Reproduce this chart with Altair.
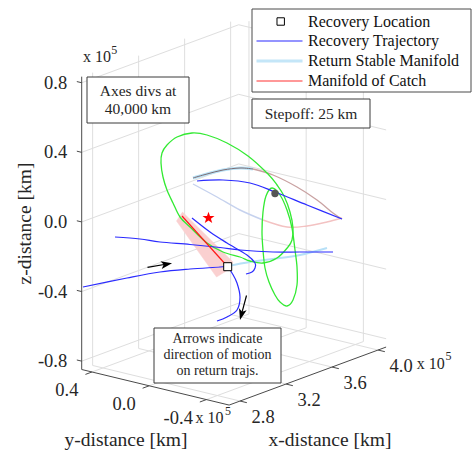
import math
import altair as alt
import pandas as pd

W, H = 475, 453
FONT = "Liberation Serif"

# ---------------- axis limits and ticks (units of 1e5 km) ----------------
x_lim = [2.705, 4.07]
y_lim = [-0.559, 0.472]
z_lim = [-0.848, 0.835]
x_ticks = [2.8, 3.2, 3.6, 4.0]
x_tick_labels = ["2.8", "3.2", "3.6", "4.0"]
y_ticks = [0.4, 0.0, -0.4]
y_tick_labels = ["0.4", "0.0", "-0.4"]
z_ticks = [0.8, 0.4, 0.0, -0.4, -0.8]
z_tick_labels = ["0.8", "0.4", "0.0", "-0.4", "-0.8"]

# ---------------- curves (projected view coords) ----------------
green_big_x = [192, 207, 227, 248, 268, 277, 284, 290, 293, 292, 288, 277, 263, 250, 240, 223, 207, 190, 180, 173, 167, 163, 161, 162, 167, 177]
green_big_y = [133, 135, 143, 156, 174, 185, 196, 212, 228, 240, 247, 258, 263, 261, 257, 252, 243, 227, 217, 203, 190, 177, 163, 153, 145, 137]
green_small_x = [272, 280, 287, 292, 295, 297, 297, 293, 287, 280, 275, 269, 265, 263, 262, 263, 266]
green_small_y = [188, 195, 210, 228, 250, 267, 285, 300, 306, 302, 295, 282, 268, 250, 232, 212, 196]

blue1_x = [83, 127, 160, 190, 220, 227]
blue1_y = [287, 278, 272, 269, 267, 266]
blue2_x = [228, 232, 237, 240, 237, 227, 217]
blue2_y = [267, 273, 283, 297, 310, 317, 321]
blue3_x = [115, 140, 160, 190, 220, 240, 273, 300, 333]
blue3_y = [237, 239, 242, 244.5, 247.5, 250, 252, 252, 252]
blue4_x = [192, 210, 227, 247, 255, 255, 252, 246]
blue4_y = [218, 232, 243, 255, 263, 268, 272, 274]
blue5_x = [197, 223, 250, 275, 307, 342]
blue5_y = [181, 180, 183, 192, 205, 219]

stable1_x = [228, 250, 273, 300, 327]
stable1_y = [266, 262, 259, 255, 248]
arc_top_x = [193, 207, 223, 240, 253, 273, 297, 317, 333, 342]
arc_top_y = [178, 174, 170, 168, 169, 175, 187, 200, 213, 219]
arc_bot_x = [193, 217, 240, 263, 287, 307, 327, 342]
arc_bot_y = [184, 197, 210, 220, 227, 226, 222, 218]

catch_x = [182, 227]
catch_y = [216, 266]
catch_band_x = [176.5, 182.5, 233, 228, 216.5]
catch_band_y = [221, 212, 262, 270, 277]

recovery_pt = (227.7, 266.7)
moon_pt = (275, 193.5)
star_pt = (208.5, 218)

legend_labels = ["Recovery Location", "Recovery Trajectory", "Return Stable Manifold", "Manifold of Catch"]

# ---------------- view projection (px per 1e5 km) ----------------
ORIGIN = (81.7, 369.5)      # screen position of (xmin, ymax, zmin)
EX = (115.0, -42.5)
EY = (-143.0, -34.5)
EZ = (0.0, -174.0)

BLUE = "#2b2bff"
GREEN = "#33ea33"


def proj(x, y, z):
    dx, dy, dz = x - x_lim[0], y - y_lim[1], z - z_lim[0]
    return (ORIGIN[0] + EX[0] * dx + EY[0] * dy + EZ[0] * dz,
            ORIGIN[1] + EX[1] * dx + EY[1] * dy + EZ[1] * dz)


def unit(v):
    n = math.hypot(v[0], v[1])
    return (v[0] / n, v[1] / n)


XS = alt.Scale(domain=[0, W], range=[0, W])
YS = alt.Scale(domain=[0, H], range=[0, H])


def X(f="x"):
    return alt.X(f, type="quantitative", scale=XS, axis=None)


def Y(f="y"):
    return alt.Y(f, type="quantitative", scale=YS, axis=None)


def rules(rows, color, width):
    df = pd.DataFrame(rows, columns=["x", "y", "x2", "y2"])
    return alt.Chart(df).mark_rule(color=color, strokeWidth=width).encode(
        x=X(), y=Y(), x2="x2:Q", y2="y2:Q")


def curve(xs, ys, color, width=1.2, interp="cardinal", opacity=1.0):
    df = pd.DataFrame({"x": xs, "y": ys, "k": list(range(len(xs)))})
    return alt.Chart(df).mark_line(color=color, strokeWidth=width, interpolate=interp,
                                   opacity=opacity).encode(x=X(), y=Y(), order="k:Q")


def texts(rows, size, align="center", angle=0, color="#262626"):
    df = pd.DataFrame(rows, columns=["x", "y", "text"])
    kw = dict(font=FONT, fontSize=size, align=align, baseline="middle", color=color)
    if angle:
        kw["angle"] = angle
    return alt.Chart(df).mark_text(**kw).encode(x=X(), y=Y(), text="text:N")


def box(x0, y0, x1, y1, stroke="#3a3a3a"):
    df = pd.DataFrame({"x": [x0], "y": [y0], "x2": [x1], "y2": [y1]})
    return alt.Chart(df).mark_rect(fill="white", stroke=stroke, strokeWidth=1).encode(
        x=X(), y=Y(), x2="x2:Q", y2="y2:Q")


def pts(p):
    return pd.DataFrame({"x": [p[0]], "y": [p[1]]})


x0, x1 = x_lim
y0, y1 = y_lim
z0, z1 = z_lim

# grid on back walls and floor
grid = []
for xv in x_ticks:
    grid.append(proj(xv, y1, z0) + proj(xv, y1, z1))
    grid.append(proj(xv, y0, z0) + proj(xv, y1, z0))
for yv in y_ticks:
    grid.append(proj(x1, yv, z0) + proj(x1, yv, z1))
    grid.append(proj(x0, yv, z0) + proj(x1, yv, z0))
for zv in z_ticks:
    grid.append(proj(x0, y1, zv) + proj(x1, y1, zv))
    grid.append(proj(x1, y0, zv) + proj(x1, y1, zv))

# axis lines and ticks
axes = [proj(x0, y1, z0) + proj(x0, y1, z1),
        proj(x0, y0, z0) + proj(x0, y1, z0),
        proj(x0, y0, z0) + proj(x1, y0, z0)]
uz = unit(EY)
uy = unit((-EX[0], -EX[1]))
ux = unit((-EY[0], -EY[1]))
for zv in z_ticks:
    p = proj(x0, y1, zv)
    axes.append(p + (p[0] + 5 * uz[0], p[1] + 5 * uz[1]))
for yv in y_ticks:
    p = proj(x0, yv, z0)
    axes.append(p + (p[0] + 7 * uy[0], p[1] + 7 * uy[1]))
for xv in x_ticks:
    p = proj(xv, y0, z0)
    axes.append(p + (p[0] + 7 * ux[0], p[1] + 7 * ux[1]))

z_lab = [(proj(x0, y1, v)[0] - 14.5, proj(x0, y1, v)[1], t) for v, t in zip(z_ticks, z_tick_labels)]
y_lab = [(proj(x0, v, z0)[0] - 13.5, proj(x0, v, z0)[1] + 18.5, t) for v, t in zip(y_ticks, y_tick_labels)]
x_lab = [(proj(v, y0, z0)[0] + 11.5, proj(v, y0, z0)[1] + 15.5, t) for v, t in zip(x_ticks, x_tick_labels)]

pz = proj(x0, y1, z_ticks[0])
py = proj(x0, y_ticks[-1], z0)
px = proj(x_ticks[-1], y0, z0)
exp_base = [(pz[0] + 1.3, pz[1] - 25.5, "x 10"), (py[0] - 11, py[1] + 18.5, "x 10"),
            (px[0] + 38.8, px[1] + 13.5, "x 10")]
exp_pow = [(pz[0] + 29.5, pz[1] - 32.5, "5"), (py[0] + 18.5, py[1] + 11, "5"),
           (px[0] + 67.5, px[1] + 5.5, "5")]

layers = [
    rules(grid, "#dedede", 1),
    rules(axes, "#4a4a4a", 1),
    texts(z_lab, 18.5, "right"),
    texts(y_lab, 18.5, "right"),
    texts(x_lab, 18.5, "left"),
    texts(exp_base, 16, "left"),
    texts(exp_pow, 12, "left"),
    texts([(24.5, 223.5, "z-distance [km]")], 19.5, "center", angle=270),
    texts([(126, 440, "y-distance [km]")], 19.5),
    texts([(330, 440, "x-distance [km]")], 19.5),
]

band_df = pd.DataFrame({"x": catch_band_x, "y": catch_band_y, "k": list(range(len(catch_band_x)))})
layers.append(alt.Chart(band_df).mark_line(fill="#fad0d0", color="#fad0d0", strokeWidth=0.5,
                                           interpolate="linear-closed").encode(x=X(), y=Y(), order="k:Q"))

# return stable manifold + manifold arcs, orbits, trajectories
layers += [
    curve(arc_bot_x[:4], arc_bot_y[:4], "#c6d2ee", 1.4),
    curve(arc_bot_x[3:], arc_bot_y[3:], "#f3c2c2", 1.4),
    curve(arc_top_x[:5], arc_top_y[:5], "#b9e2f7", 3),
    curve(arc_top_x[:5], arc_top_y[:5], "#7d6c72", 1),
    curve(arc_top_x[4:], arc_top_y[4:], "#c9a2a2", 1.3),
    curve(stable1_x, stable1_y, "#b7e0f7", 2),
    curve(green_big_x, green_big_y, GREEN, 1.3, "cardinal-closed"),
    curve(green_small_x, green_small_y, GREEN, 1.3, "cardinal-closed"),
    curve(blue1_x, blue1_y, BLUE, 1.2),
    curve(blue2_x, blue2_y, BLUE, 1.2),
    curve(blue3_x, blue3_y, BLUE, 1.2),
    curve(blue4_x, blue4_y, BLUE, 1.2),
    curve(blue5_x, blue5_y, BLUE, 1.2),
    curve(catch_x, catch_y, "#ff1a1a", 1.2, "linear"),
]

# symbol shapes (unit square coordinates)
star_pts = []
for i in range(10):
    r = 1.0 if i % 2 == 0 else 0.4
    a = math.radians(-90 + 36 * i)
    star_pts.append(f"{r * math.cos(a):.3f},{r * math.sin(a):.3f}")
STAR = "M" + " L".join(star_pts) + " Z"
ARROW = "M0,-1 L0.6,0.7 L0,0.3 L-0.6,0.7 Z"

layers += [
    alt.Chart(pts(star_pt)).mark_point(shape=STAR, filled=True, color="#ff0000", size=160, opacity=1).encode(x=X(), y=Y()),
    alt.Chart(pts(moon_pt)).mark_point(shape="circle", filled=True, color="#555555", size=55, opacity=1).encode(x=X(), y=Y()),
    alt.Chart(pts(recovery_pt)).mark_point(shape="square", filled=True, fill="white", stroke="black",
                                           strokeWidth=1, size=64, opacity=1).encode(x=X(), y=Y()),
]

# direction arrows (annotation)
for tail, tip in [((147.5, 267.3), (172, 263.2)), ((246.5, 295.5), (240, 320))]:
    d = unit((tip[0] - tail[0], tip[1] - tail[1]))
    ang = math.degrees(math.atan2(d[0], -d[1])) % 360
    mid = (tip[0] - 6.5 * d[0], tip[1] - 6.5 * d[1])
    layers.append(rules([tail + mid], "black", 1.2))
    layers.append(alt.Chart(pts(mid)).mark_point(shape=ARROW, filled=True, color="black", size=170,
                                                 angle=round(ang, 1), opacity=1).encode(x=X(), y=Y()))

# text boxes
layers += [
    box(87, 77, 189, 123),
    texts([(138, 90.5, "Axes divs at"), (138, 108.5, "40,000 km")], 15.5),
    box(252, 99, 370, 128),
    texts([(311, 113.5, "Stepoff: 25 km")], 15.5),
    box(154, 328, 281, 383),
    texts([(217.5, 338.5, "Arrows indicate"), (217.5, 354.5, "direction of motion"),
           (217.5, 371, "on return trajs.")], 14),
]

# legend
leg_y = [21.5, 41, 61, 81]
layers += [
    box(252, 9, 471, 92, stroke="#4a4a4a"),
    alt.Chart(pts((280.7, leg_y[0]))).mark_point(shape="square", filled=True, fill="white", stroke="black",
                                                  strokeWidth=1, size=55, opacity=1).encode(x=X(), y=Y()),
    rules([(256.5, leg_y[1], 302.5, leg_y[1])], BLUE, 1.2),
    rules([(256.5, leg_y[2], 302.5, leg_y[2])], "#c4e6f8", 3),
    rules([(256.5, leg_y[3], 302.5, leg_y[3])], "#ff3333", 1.2),
    texts([(308, yy, t) for yy, t in zip(leg_y, legend_labels)], 16, "left", color="#111111"),
]

chart = alt.layer(*layers).properties(
    width=W, height=H, padding=0, autosize=alt.AutoSizeParams(type="none")
).configure_view(stroke=None)

chart.save("out.html", embed_options={"renderer": "svg", "actions": False})
